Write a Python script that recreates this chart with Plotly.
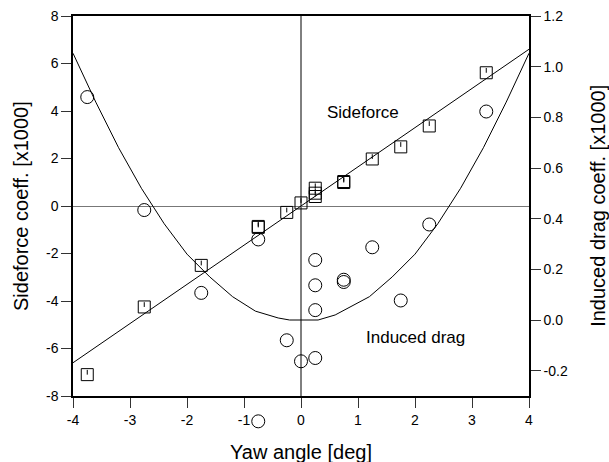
import plotly.graph_objects as go

# Sideforce coefficient [x1000] (left axis) - open squares
side_x = [-3.75, -2.75, -1.75, -0.75, -0.75, -0.25, 0.0, 0.25, 0.25, 0.25, 0.75, 0.75, 1.25, 1.75, 2.25, 3.25]
side_y = [-7.1, -4.25, -2.5, -0.86, -0.9, -0.27, 0.13, 0.75, 0.54, 0.4, 1.03, 0.99, 1.98, 2.49, 3.37, 5.61]

# Linear fit of sideforce
side_fit_x = [-4, 4]
side_fit_y = [-6.6, 6.6]

# Induced drag coefficient [x1000] (right axis) - open circles
drag_x = [-3.75, -2.75, -1.75, -0.75, -0.75, -0.25, 0.0, 0.25, 0.25, 0.25, 0.25, 0.75, 0.75, 1.25, 1.75, 2.25, 3.25]
drag_y = [0.88, 0.434, 0.107, 0.318, -0.40, -0.08, -0.163, 0.237, 0.137, 0.039, -0.15, 0.159, 0.15, 0.287, 0.077, 0.377, 0.823]

# Induced drag fit curve
drag_fit_x = [-4.0, -3.6, -3.2, -2.8, -2.4, -2.0, -1.6, -1.2, -0.8, -0.4, -0.2, 0.3, 0.6, 1.0, 1.2, 1.6, 2.0, 2.4, 2.8, 3.2, 3.6, 4.0]
drag_fit_y = [1.053, 0.86, 0.68, 0.52, 0.38, 0.26, 0.17, 0.092, 0.035, 0.008, 0.0, 0.0, 0.02, 0.07, 0.092, 0.17, 0.26, 0.38, 0.52, 0.68, 0.86, 1.053]

left_ticks = [-8, -6, -4, -2, 0, 2, 4, 6, 8]
left_labels = ["-8", "-6", "-4", "-2", "0", "2", "4", "6", "8"]
right_ticks = [-0.2, 0.0, 0.2, 0.4, 0.6, 0.8, 1.0, 1.2]
right_labels = ["-0.2", "0.0", "0.2", "0.4", "0.6", "0.8", "1.0", "1.2"]
x_ticks = [-4, -3, -2, -1, 0, 1, 2, 3, 4]
x_labels = ["-4", "-3", "-2", "-1", "0", "1", "2", "3", "4"]

FONT = "Liberation Sans, Arial, Helvetica, sans-serif"

# Layout geometry: main axes occupy upper part of plot area; an invisible
# companion axis (y3) spans the full area so that an out-of-range point can show.
MAIN_BOTTOM = 0.0909
Y2_RANGE = [-0.3, 1.2]
Y3_RANGE = [-0.45, 1.2]

fig = go.Figure()

fig.add_trace(go.Scatter(x=side_fit_x, y=side_fit_y, mode="lines",
                         line=dict(color="black", width=1), showlegend=False))
fig.add_trace(go.Scatter(x=side_x, y=side_y, mode="markers",
                         marker=dict(symbol="square-open", size=12, color="black",
                                     line=dict(width=1, color="black")),
                         error_y=dict(type="constant", value=0.2, valueminus=0, symmetric=False,
                                      width=0, thickness=1, color="black"),
                         showlegend=False, cliponaxis=False))
fig.add_trace(go.Scatter(x=drag_fit_x, y=drag_fit_y, mode="lines", yaxis="y2",
                         line=dict(color="black", width=1), showlegend=False))
fig.add_trace(go.Scatter(x=drag_x, y=drag_y, mode="markers", yaxis="y3",
                         marker=dict(symbol="circle-open", size=13, color="black",
                                     line=dict(width=1, color="black")),
                         showlegend=False, cliponaxis=False))

# vertical reference line at zero yaw
fig.add_shape(type="line", xref="x", yref="y domain", x0=0, x1=0, y0=0, y1=1,
              line=dict(color="black", width=1), layer="below")

fig.add_annotation(x=1.08, y=3.95, xref="x", yref="y", text="Sideforce", showarrow=False,
                   font=dict(size=17, color="black", family=FONT))
fig.add_annotation(x=2.0, y=-5.52, xref="x", yref="y", text="Induced drag", showarrow=False,
                   font=dict(size=17, color="black", family=FONT))

# axis titles
fig.add_annotation(x=0.5, y=-0.043, xref="paper", yref="paper", text="Yaw angle [deg]",
                   xanchor="center", yanchor="middle",
                   showarrow=False, font=dict(size=20, color="black", family=FONT))
fig.add_annotation(x=-0.114, y=0.5455, xref="paper", yref="paper", text="Sideforce coeff. [x1000]",
                   xanchor="center", yanchor="middle",
                   textangle=-90, showarrow=False, font=dict(size=20, color="black", family=FONT))
fig.add_annotation(x=1.151, y=0.5455, xref="paper", yref="paper", text="Induced drag coeff. [x1000]",
                   xanchor="center", yanchor="middle",
                   textangle=-90, showarrow=False, font=dict(size=20, color="black", family=FONT))

fig.update_layout(
    width=609, height=462,
    margin=dict(l=73, r=80, t=16, b=28, autoexpand=False),
    paper_bgcolor="white", plot_bgcolor="rgba(0,0,0,0)",
    font=dict(family=FONT, color="black", size=14),
    xaxis=dict(range=[-4, 4], tickvals=x_ticks, ticktext=x_labels, ticks="outside", ticklen=10,
               tickcolor="#333", showline=True, linecolor="black", linewidth=1.5, mirror=True,
               showgrid=False, zeroline=False, anchor="y", automargin=False,
               tickfont=dict(size=14)),
    yaxis=dict(range=[-8, 8], domain=[MAIN_BOTTOM, 1], tickvals=left_ticks, ticktext=left_labels,
               ticks="outside", ticklen=10, tickcolor="#333",
               showline=True, linecolor="black", linewidth=1.5, automargin=False,
               showgrid=False, zeroline=True, zerolinecolor="#777", zerolinewidth=1,
               tickfont=dict(size=14)),
    yaxis2=dict(range=Y2_RANGE, domain=[MAIN_BOTTOM, 1], tickvals=right_ticks, ticktext=right_labels,
                overlaying="y", side="right", anchor="x",
                ticks="outside", ticklen=10, tickcolor="#333", automargin=False,
                showline=True, linecolor="black", linewidth=1.5,
                showgrid=False, zeroline=False, tickfont=dict(size=14)),
    yaxis3=dict(range=Y3_RANGE, domain=[0, 1], anchor="x", visible=False,
                showgrid=False, zeroline=False, automargin=False),
)

fig.write_html("out.html", config={"displayModeBar": False},
               post_script="document.body.style.margin='0';")
